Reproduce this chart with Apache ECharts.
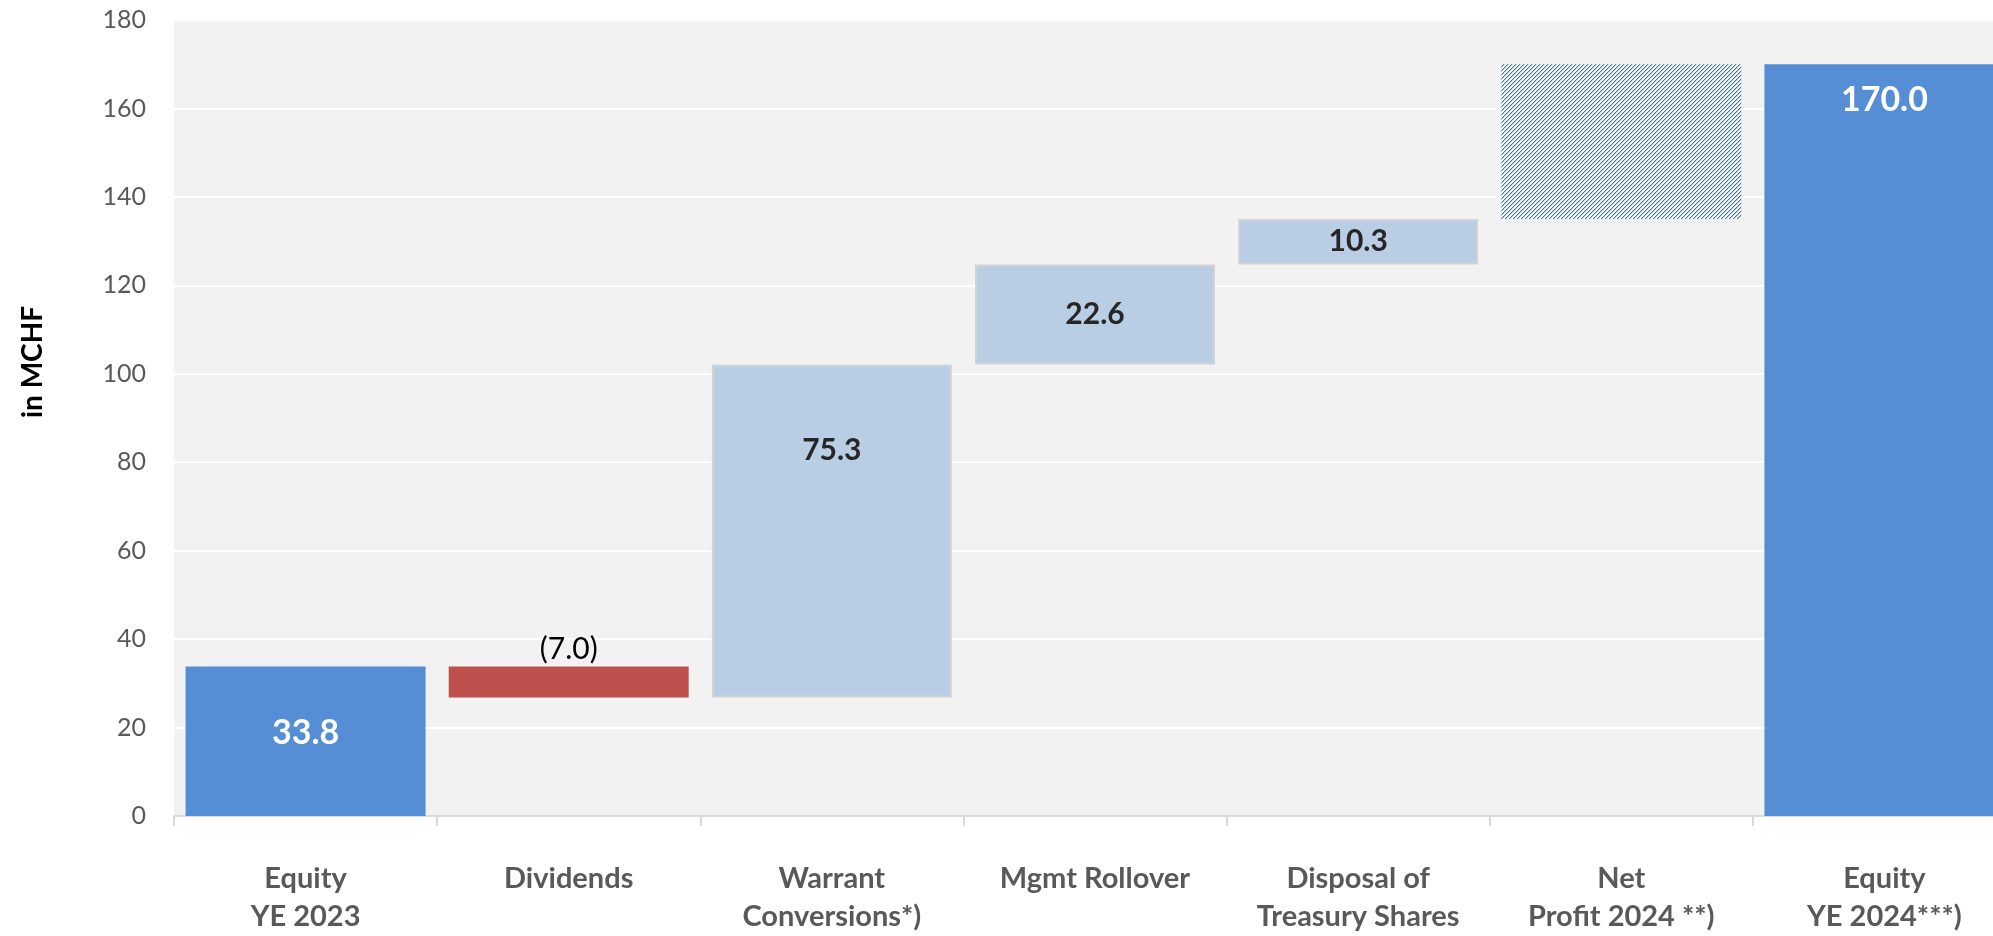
<!DOCTYPE html>
<html>
<head>
<meta charset="utf-8">
<script src="https://cdn.jsdelivr.net/npm/echarts@6/dist/echarts.min.js"></script>
<style>
  html, body { margin: 0; padding: 0; background: #ffffff; overflow: hidden; }
  #chart { width: 2016px; height: 936px; }
</style>
</head>
<body>
<div id="chart"></div>
<script>
// Equity bridge, in MCHF
const categories = [
  'Equity\nYE 2023',
  'Dividends',
  'Warrant\nConversions*)',
  'Mgmt Rollover',
  'Disposal of\nTreasury Shares',
  'Net\nProfit 2024 **)',
  'Equity\nYE 2024***)'
];
const openingEquity = 33.8;
const movements = [-7.0, 75.3, 22.6, 10.3, 35.0];   // Dividends .. Net Profit
const closingEquity = 170.0;
const yTicks = [0, 20, 40, 60, 80, 100, 120, 140, 160, 180];

// Diagonal hatch used for the (projected) net profit step
function hatchPattern() {
  const c = document.createElement('canvas');
  c.width = 4; c.height = 4;
  const g = c.getContext('2d');
  g.fillStyle = '#ffffff';
  g.fillRect(0, 0, 4, 4);
  for (let i = 0; i < 4; i++) {
    g.fillStyle = '#3f6fc2';
    g.fillRect(3 - i, i, 1, 1);
    g.fillStyle = '#b4c8ea';
    g.fillRect((4 - i) % 4, i, 1, 1);
  }
  return c;
}

// Floating bases and visible heights for the waterfall
const baseData = [0];
const stepData = [openingEquity];
let running = openingEquity;
movements.forEach(m => {
  const next = running + m;
  baseData.push(Math.min(running, next));
  stepData.push(Math.abs(m));
  running = next;
});
baseData.push(0);
stepData.push(closingEquity);

const totalStyle = { color: '#558ed5' };
const negStyle = { color: '#c0504d' };
const posStyle = { color: '#b9cde5', borderColor: '#d3d3d3', borderWidth: 2 };
const hatchStyle = { color: { image: hatchPattern(), repeat: 'repeat' } };

const whiteLabel = { show: true, position: 'inside', color: '#ffffff', fontFamily: 'Lato', fontWeight: 'bold', fontSize: 34 };
const darkLabel = { show: true, position: 'inside', color: '#262626', fontFamily: 'Lato', fontWeight: 'bold', fontSize: 30 };

const stepItems = stepData.map((v, i) => {
  const signed = i === 0 ? openingEquity : (i === stepData.length - 1 ? closingEquity : movements[i - 1]);
  const fmt = signed < 0 ? '(' + Math.abs(signed).toFixed(1) + ')' : signed.toFixed(1);
  if (i === 0) return { value: v, itemStyle: totalStyle, label: Object.assign({}, whiteLabel, { formatter: fmt, offset: [0, -8] }) };
  if (i === stepData.length - 1) return { value: v, itemStyle: totalStyle, label: Object.assign({}, whiteLabel, { position: 'insideTop', distance: 19, formatter: fmt }) };
  if (i === 5) return { value: v, itemStyle: hatchStyle, label: { show: false } };
  if (signed < 0) return { value: v, itemStyle: negStyle, label: { show: true, position: 'top', distance: 2, color: '#000000', fontFamily: 'Lato', fontSize: 30, formatter: fmt } };
  const lbl = Object.assign({}, darkLabel, { formatter: fmt });
  if (i === 2) lbl.offset = [0, -81];
  return { value: v, itemStyle: posStyle, label: lbl };
});

const chart = echarts.init(document.getElementById('chart'), null, { renderer: 'canvas' });
chart.setOption({
  animation: false,
  backgroundColor: '#ffffff',
  grid: {
    left: 174, top: 20, right: 0, bottom: 120,
    show: true, backgroundColor: '#f2f2f2', borderWidth: 0, containLabel: false
  },
  xAxis: {
    type: 'category',
    data: categories,
    axisLine: { show: true, lineStyle: { color: '#d9d9d9', width: 2 } },
    axisTick: { show: true, length: 10, lineStyle: { color: '#d9d9d9', width: 2 } },
    axisLabel: {
      margin: 44, color: '#595959', fontFamily: 'Lato', fontWeight: 'bold',
      fontSize: 29, lineHeight: 38, verticalAlign: 'top', interval: 0
    }
  },
  yAxis: {
    type: 'value',
    min: yTicks[0], max: yTicks[yTicks.length - 1], interval: yTicks[1] - yTicks[0],
    axisLine: { show: false },
    axisTick: { show: false },
    axisLabel: { margin: 28, color: '#595959', fontFamily: 'Lato', fontSize: 25 },
    splitLine: { show: true, lineStyle: { color: '#ffffff', width: 2 } }
  },
  series: [
    {
      name: 'base', type: 'bar', stack: 'bridge', barWidth: 240,
      itemStyle: { color: 'transparent' }, emphasis: { disabled: true },
      data: baseData
    },
    {
      name: 'step', type: 'bar', stack: 'bridge', barWidth: 240,
      emphasis: { disabled: true },
      data: stepItems
    }
  ],
  graphic: [{
    type: 'text', x: 33, y: 362, rotation: Math.PI / 2,
    style: {
      text: 'in MCHF', fill: '#000000', fontFamily: 'Lato', fontWeight: 'bold',
      fontSize: 28, align: 'center', verticalAlign: 'middle'
    }
  }]
});
</script>
</body>
</html>
